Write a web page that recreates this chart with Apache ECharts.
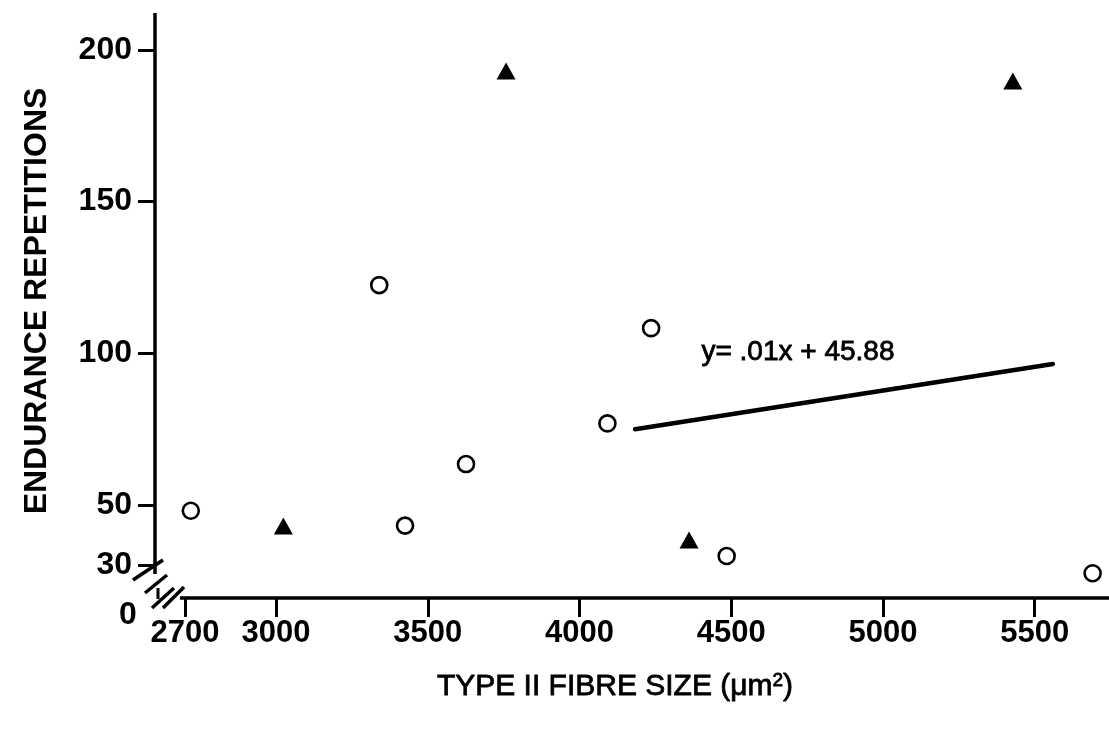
<!DOCTYPE html>
<html>
<head>
<meta charset="utf-8">
<script src="https://cdn.jsdelivr.net/npm/echarts@6/dist/echarts.min.js"></script>
<style>
  html, body { margin: 0; padding: 0; background: #fff; }
  #chart { width: 1109px; height: 730px; }
</style>
</head>
<body>
<div id="chart"></div>
<script>
// Axis ranges and tick values
const xRange = [2601, 5745];
const yRange = [19.34, 212.2];
const xTicks = [2700, 3000, 3500, 4000, 4500, 5000, 5500];
const yTicks = [30, 50, 100, 150, 200];

// Open circles
const circleX = [2719, 3340, 3425, 3626, 4092, 4236, 4485, 5691];
const circleY = [48.1, 122.5, 43.2, 63.5, 76.9, 108.3, 33.2, 27.5];

// Filled triangles
const triangleX = [3024, 3758, 4361, 5428];
const triangleY = [43.1, 193.1, 38.5, 189.8];

// Regression line segment and its equation
const fitX = [4183, 5560];
const fitY = [75.0, 96.5];
const fitLabel = 'y= .01x + 45.88';
const fitLabelAt = [4720, 100.4];

const xTitle = 'TYPE II FIBRE SIZE (\u03BCm{sup|2})';
const yTitle = 'ENDURANCE REPETITIONS';

const FONT = '"Liberation Sans", Arial, sans-serif';
const zip = (a, b) => a.map((v, i) => [v, b[i]]);
const plain = v => String(v);

const chart = echarts.init(document.getElementById('chart'), null, { renderer: 'canvas' });

const option = {
  animation: false,
  backgroundColor: '#ffffff',
  grid: { left: 155, right: 0, top: 13, bottom: 132, containLabel: false },
  xAxis: {
    type: 'value',
    min: xRange[0],
    max: xRange[1],
    splitLine: { show: false },
    axisLine: { show: false },
    axisTick: {
      show: true,
      customValues: xTicks,
      length: 19,
      lineStyle: { color: '#000', width: 3 }
    },
    axisLabel: {
      customValues: xTicks,
      formatter: plain,
      margin: 20,
      color: '#000',
      fontFamily: FONT,
      fontWeight: 'bold',
      fontSize: 31
    }
  },
  yAxis: {
    type: 'value',
    min: yRange[0],
    max: yRange[1],
    splitLine: { show: false },
    axisLine: { show: false },
    axisTick: {
      show: true,
      customValues: yTicks,
      length: 17,
      lineStyle: { color: '#000', width: 3 }
    },
    axisLabel: {
      customValues: yTicks,
      formatter: plain,
      margin: 23,
      color: '#000',
      fontFamily: FONT,
      fontWeight: 'bold',
      fontSize: 32
    }
  },
  series: [
    {
      name: 'circles',
      type: 'scatter',
      data: zip(circleX, circleY),
      symbol: 'circle',
      symbolSize: 16,
      itemStyle: { color: '#fff', borderColor: '#000', borderWidth: 2.6, opacity: 1 },
      z: 5
    },
    {
      name: 'triangles',
      type: 'scatter',
      data: zip(triangleX, triangleY),
      symbol: 'triangle',
      symbolSize: [19, 17],
      itemStyle: { color: '#000', opacity: 1 },
      z: 5
    },
    {
      name: 'fit',
      type: 'line',
      data: zip(fitX, fitY),
      showSymbol: false,
      symbol: 'none',
      lineStyle: { color: '#000', width: 4.5, cap: 'round', opacity: 1 },
      z: 4
    },
    {
      name: 'fitLabel',
      type: 'scatter',
      data: [fitLabelAt],
      symbolSize: 0,
      silent: true,
      itemStyle: { opacity: 1 },
      label: {
        show: true,
        position: 'inside',
        formatter: fitLabel,
        color: '#000',
        opacity: 1,
        fontFamily: FONT,
        fontSize: 28,
        fontWeight: 'normal',
        textBorderColor: '#000',
        textBorderWidth: 0.8
      }
    }
  ]
};

chart.setOption(option);

// Axis lines with a broken corner, axis titles and the origin label
const toPx = (x, y) => chart.convertToPixel({ gridIndex: 0 }, [x, y]);
const origin = toPx(xRange[0], yRange[0]);
const topEnd = toPx(xRange[0], yRange[1]);
const rightEnd = toPx(xRange[1], yRange[0]);
const ox = origin[0], oy = origin[1];
const seg = (x1, y1, x2, y2, w) => ({
  type: 'line',
  z: 100,
  shape: { x1, y1, x2, y2 },
  style: { stroke: '#000', lineWidth: w || 3.5 }
});

chart.setOption({
  graphic: [
    seg(ox, topEnd[1], ox, oy - 24),
    seg(ox + 25, oy, rightEnd[0], oy),
    seg(ox - 22, oy - 18, ox + 8, oy - 38, 3.5),
    seg(ox - 10, oy - 5, ox + 12, oy - 23, 3.5),
    seg(ox + 3, oy - 10, ox + 3, oy + 1, 3),
    seg(ox - 3, oy + 10, ox + 19, oy - 10, 3.5),
    seg(ox + 8, oy + 10, ox + 29, oy - 11, 3.5),
    {
      type: 'text',
      z: 100,
      x: ox - 27,
      y: oy + 17,
      style: {
        text: '0',
        fill: '#000',
        font: 'bold 32px ' + FONT,
        align: 'center',
        verticalAlign: 'middle'
      }
    },
    {
      type: 'text',
      z: 100,
      x: 37,
      y: 301,
      rotation: Math.PI / 2,
      style: {
        text: yTitle,
        fill: '#000',
        font: 'bold 32px ' + FONT,
        align: 'center',
        verticalAlign: 'middle'
      }
    },
    {
      type: 'text',
      z: 100,
      x: 615,
      y: 687,
      style: {
        text: xTitle,
        fill: '#000',
        font: '30px ' + FONT,
        align: 'center',
        verticalAlign: 'middle',
        stroke: '#000',
        lineWidth: 0.8,
        rich: {
          sup: { fontSize: 19, verticalAlign: 'top', padding: [0, 0, 12, 0], fill: '#000', fontFamily: FONT }
        }
      }
    }
  ]
});
</script>
</body>
</html>
